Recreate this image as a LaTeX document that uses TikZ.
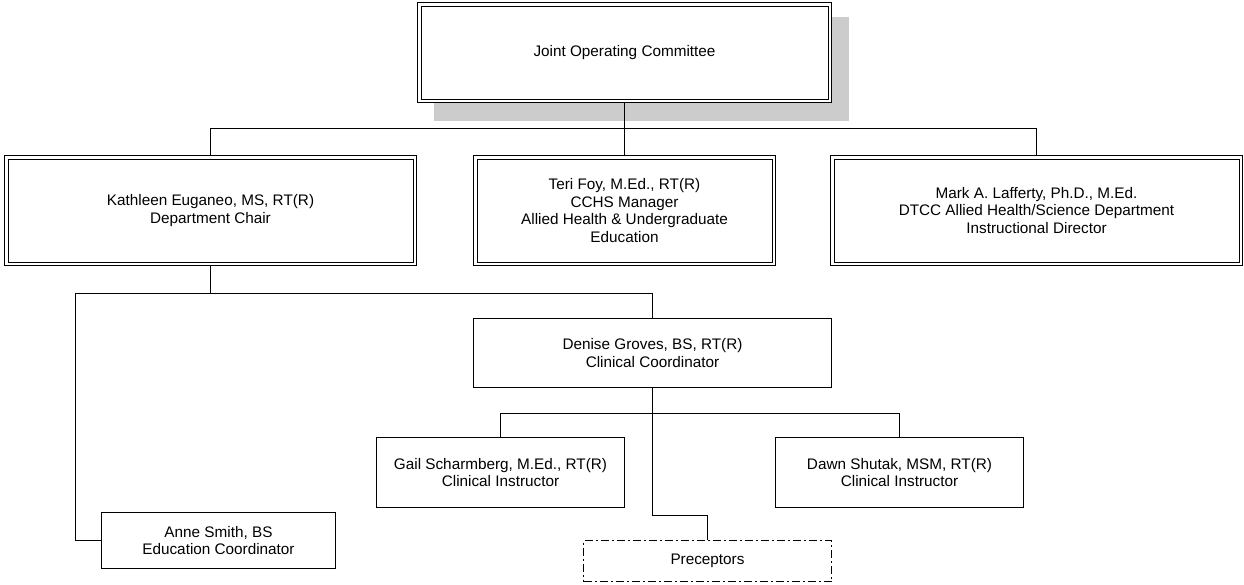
\documentclass[tikz,border=0pt]{standalone}
\usepackage{fontspec}
\setmainfont{Liberation Sans}
\definecolor{shadowgray}{HTML}{CCCCCC}
\tikzset{
  box/.style={draw=black, line width=1pt, fill=white, rectangle, align=center, inner sep=2pt,
    font=\fontsize{15.3}{17.6}\selectfont},
  dbox/.style={box},
  innerline/.style={draw=black, line width=1pt},
  pbox/.style={box, dash pattern=on 8pt off 3pt on 2pt off 3pt},
  conn/.style={draw=black, line width=1pt}
}
\begin{document}
\begin{tikzpicture}[x=1pt,y=-1pt]
\useasboundingbox (0,0) rectangle (1244,584);
% shadow
\fill[shadowgray] (434,17) rectangle (849,121);
% nodes
\node[dbox, minimum width=414pt, minimum height=100pt] (joc) at (624.5,52.5) {Joint Operating Committee};
\node[dbox, minimum width=412pt, minimum height=110pt] (kath) at (210.5,210.5) {Kathleen Euganeo, MS, RT(R)\\Department Chair};
\node[dbox, minimum width=302pt, minimum height=110pt] (teri) at (624.5,210.5) {Teri Foy, M.Ed., RT(R)\\CCHS Manager\\Allied Health \& Undergraduate\\Education};
\node[dbox, minimum width=412pt, minimum height=110pt] (mark) at (1036.5,210.5) {Mark A. Lafferty, Ph.D., M.Ed.\\DTCC Allied Health/Science Department\\Instructional Director};
\node[box, minimum width=358pt, minimum height=69pt] (denise) at (652.5,353) {Denise Groves, BS, RT(R)\\Clinical Coordinator};
\node[box, minimum width=248pt, minimum height=70pt] (gail) at (500.5,472.5) {Gail Scharmberg, M.Ed., RT(R)\\Clinical Instructor};
\node[box, minimum width=248pt, minimum height=70pt] (dawn) at (899.5,472.5) {Dawn Shutak, MSM, RT(R)\\Clinical Instructor};
\node[box, minimum width=234pt, minimum height=56pt] (anne) at (218.5,540.5) {Anne Smith, BS\\Education Coordinator};
\node[pbox, minimum width=248pt, minimum height=41pt] (prec) at (707.5,561) {Preceptors};
% inner lines of the double borders
\foreach \n in {joc,kath,teri,mark}{
  \draw[innerline] ([shift={(4,4)}]\n.north west) rectangle ([shift={(-4,-4)}]\n.south east);
}
% bus coordinates
\coordinate (bus1) at (624.5,128.5);
\coordinate (bus2) at (210.5,293.5);
\coordinate (lft) at (75.5,293.5);
\coordinate (bus3) at (652.5,413.5);
\coordinate (pbend) at (652.5,515.5);
% connectors
\draw[conn] (joc.south) -- (bus1);
\draw[conn] (kath.north) |- (bus1) -| (mark.north);
\draw[conn] (bus1) -- (teri.north);
\draw[conn] (kath.south) -- (bus2);
\draw[conn] (bus2) -| (denise.north);
\draw[conn] (bus2) -- (lft) |- (anne.west);
\draw[conn] (denise.south) -- (bus3);
\draw[conn] (gail.north) |- (bus3) -| (dawn.north);
\draw[conn] (bus3) -- (pbend) -| (prec.north);
\end{tikzpicture}
\end{document}
